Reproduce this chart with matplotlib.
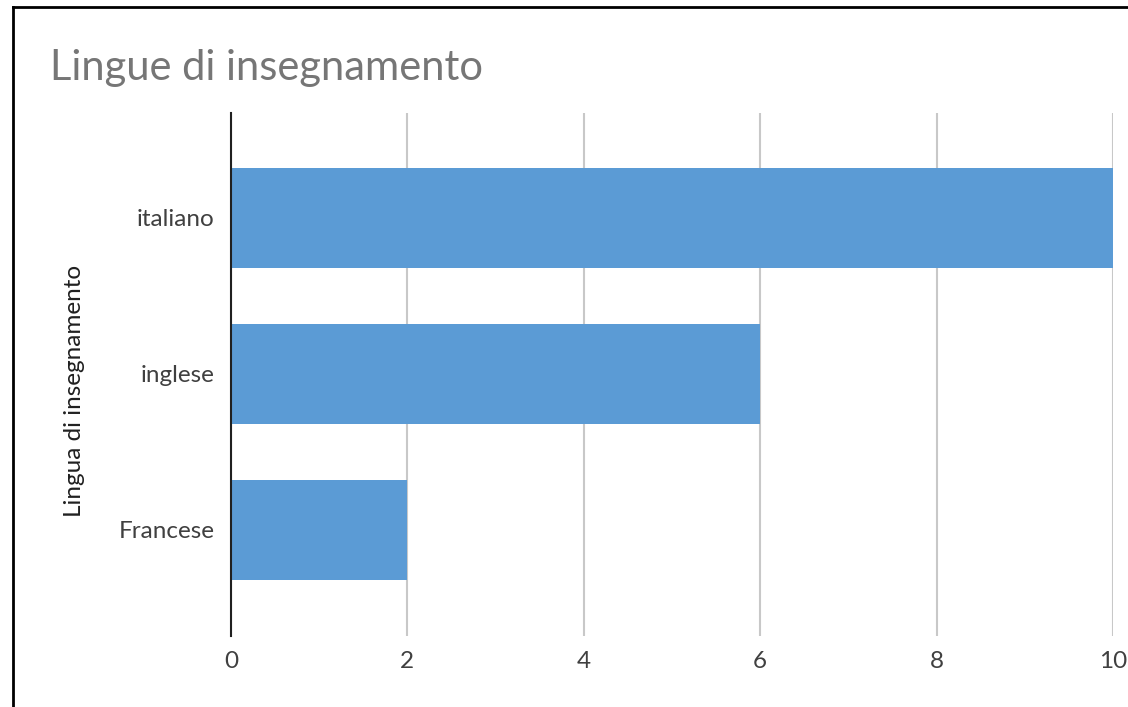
import matplotlib
matplotlib.use("Agg")
import matplotlib.pyplot as plt
import matplotlib.lines as mlines

categories = ["Francese", "inglese", "italiano"]
values = [2, 6, 10]
xticks = [0, 2, 4, 6, 8, 10]

plt.rcParams['font.family'] = ['Lato', 'DejaVu Sans']

fig = plt.figure(figsize=(11.28, 7.07), dpi=100)
ax = fig.add_axes([231/1128, 1 - 636/707, (1113-231)/1128, (636-113)/707])

ypos = list(range(len(categories)))
ax.barh(ypos, values, height=0.64, color="#5b9bd5", zorder=3)
ax.set_xlim(0, 10)
ax.set_ylim(-0.68, 2.67)
ax.set_xticks(xticks)
ax.set_xticklabels([str(t) for t in xticks], fontsize=17.5, color="#404040")
ax.set_yticks(ypos)
ax.set_yticklabels(categories, fontsize=17.5, color="#404040")
ax.tick_params(axis='x', length=0, pad=11)
ax.tick_params(axis='y', length=0, pad=12)
ax.grid(axis='x', color="#c8c8c8", linewidth=1.5, zorder=0)
for s in ['top', 'right', 'bottom']:
    ax.spines[s].set_visible(False)
ax.spines['left'].set_color("#202020")
ax.spines['left'].set_linewidth(1.5)
ax.spines['left'].set_zorder(4)
ax.set_ylabel("Lingua di insegnamento", fontsize=17.5, color="#202020")
ax.yaxis.set_label_coords((85 - 231) / (1113 - 231), 0.468)

fig.text(50/1128, 1 - 68/707, "Lingue di insegnamento", fontsize=30, color="#767676",
         ha='left', va='center')

# border
fig.add_artist(mlines.Line2D([13/1128, 13/1128], [0, 1 - 7/707], color="black", linewidth=2, transform=fig.transFigure))
fig.add_artist(mlines.Line2D([13/1128, 1], [1 - 7/707, 1 - 7/707], color="black", linewidth=2, transform=fig.transFigure))

fig.savefig("out.png", dpi=100)
